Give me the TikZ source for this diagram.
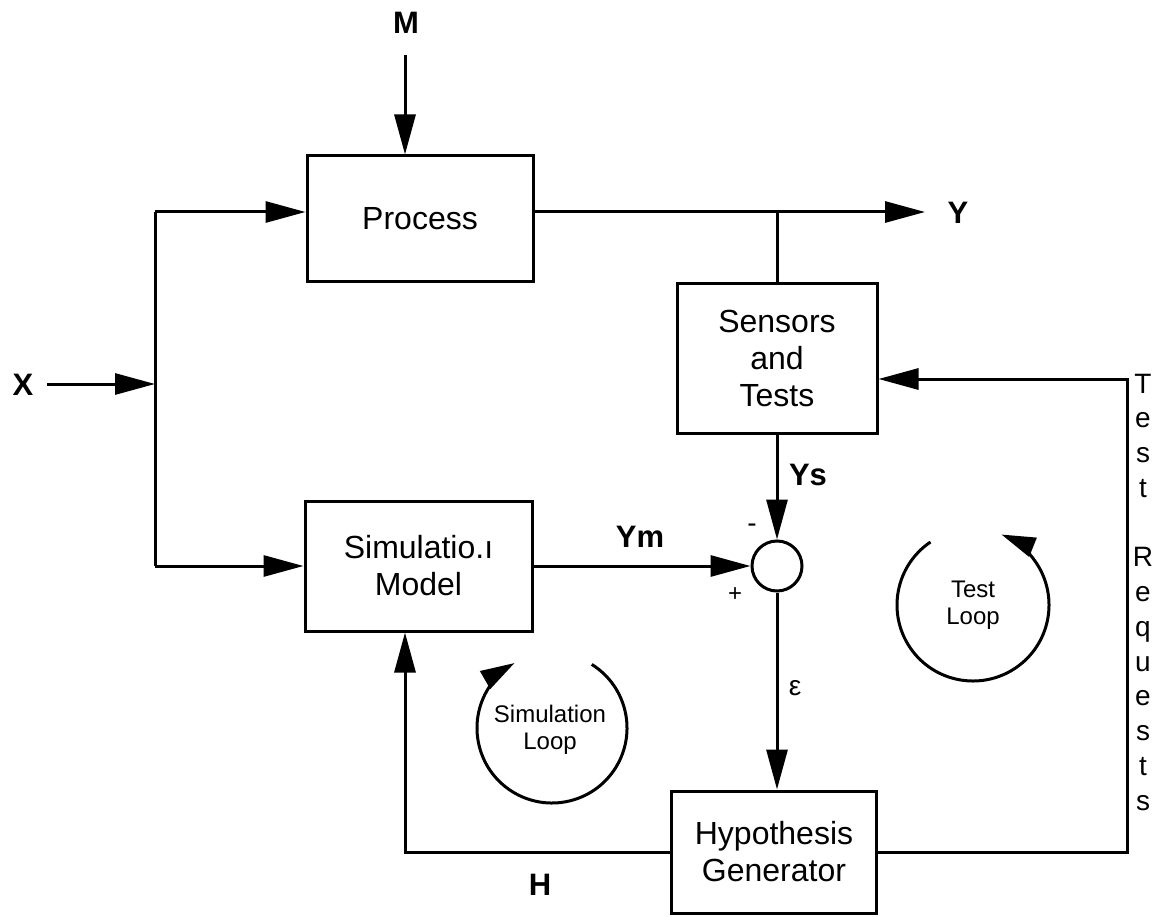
\documentclass[tikz,border=0pt]{standalone}
\usepackage{fontspec}
\setmainfont{Liberation Sans}
\usetikzlibrary{arrows.meta}
\begin{document}
\begin{tikzpicture}[x=1pt,y=-1pt,line width=3pt,
  blk/.style={draw,line width=3pt,inner sep=0pt,align=center,
    font=\fontsize{32}{37}\selectfont},
  lab/.style={font=\bfseries\fontsize{31}{36}\selectfont,inner sep=0pt},
  small/.style={font=\fontsize{24}{27}\selectfont,align=center,inner sep=0pt},
  arr/.style={-{Triangle[length=40pt,width=21pt]}},
  larr/.style={-{Triangle[length=34pt,width=20pt]}},
  letter/.style={font=\fontsize{28}{30}\selectfont,anchor=base,inner sep=0pt}]
\useasboundingbox (0,0) rectangle (1158,917);

% blocks
\node[blk,minimum width=226pt,minimum height=125pt] (P) at (420,218.5) {Process};
\node[blk,minimum width=227pt,minimum height=130pt] (Sim) at (418.5,566) {Simulatio.ı\\Model};
\node[blk,minimum width=200pt,minimum height=150pt] (Sn) at (777,358) {Sensors\\and\\Tests};
\node[blk,minimum width=205pt,minimum height=122pt] (Hy) at (774,852) {Hypothesis\\Generator};
\node[draw,circle,line width=3pt,minimum size=50pt,inner sep=0pt] (C) at (777,566) {};

% labels
\node[lab] (M) at (406,23) {M};
\node[lab] (X) at (23,385) {X};
\node[lab] (Y) at (958,213) {Y};
\node[lab] (H) at (540,885) {H};
\node[lab] (Ys) at (808,475) {Ys};
\node[lab] (Ym) at (640,537) {Ym};
\node[font=\fontsize{28}{30}\selectfont,inner sep=0pt] (eps) at (795,688) {ε};
\node[font=\fontsize{28}{30}\selectfont,inner sep=0pt] (minus) at (752,528) {-};
\node[font=\fontsize{24}{26}\selectfont,inner sep=0pt] (plus) at (735,595) {+};

% coordinates
\coordinate (mtop) at (405,55);
\coordinate (xs) at (47,384);
\coordinate (xj) at (155,384);
\coordinate (pin) at (155,212);
\coordinate (sin) at (155,566);
\coordinate (yend) at (925,212);
\coordinate (hx) at (405,0);
\coordinate (tr) at (1127,379);

% connectors
\draw[arr] (mtop) -- (mtop |- P.north);
\draw[arr] (xs) -- (xj);
\draw (pin) -- (sin);
\draw[arr] (pin) -- (pin -| P.west);
\draw[arr] (sin) -- (Sim.west);
\draw[arr] (P.east |- yend) -- (yend);
\draw (Sn.north) -- (Sn.north |- yend);
\draw[arr] (Sn.south) -- (C.north);
\draw[arr] (Sim.east) -- (C.west);
\draw[arr] (C.south) -- (C.south |- Hy.north);
\draw[arr] (Hy.west) -- (Hy.west -| hx) -- (hx |- Sim.south);
\draw[arr] (Hy.east) -| (tr) -- (tr -| Sn.east);

% loops
\draw[larr] (552,728) ++(-58:75) arc[start angle=-58,end angle=240,radius=75];
\node[small] (sl) at (550,730) {Simulation\\Loop};
\draw[larr] (973,605) ++(-124:76) arc[start angle=-124,end angle=-428,radius=76];
\node[small] (tl) at (973,605) {Test\\Loop};

% Test Requests
\foreach \k/\c in {0/T,1/e,2/s,3/t,5/R,6/e,7/q,8/u,9/e,10/s,11/t,12/s}
  \node[letter] (tr\k) at (1143,{393+\k*34.75}) {\c};
\end{tikzpicture}
\end{document}
